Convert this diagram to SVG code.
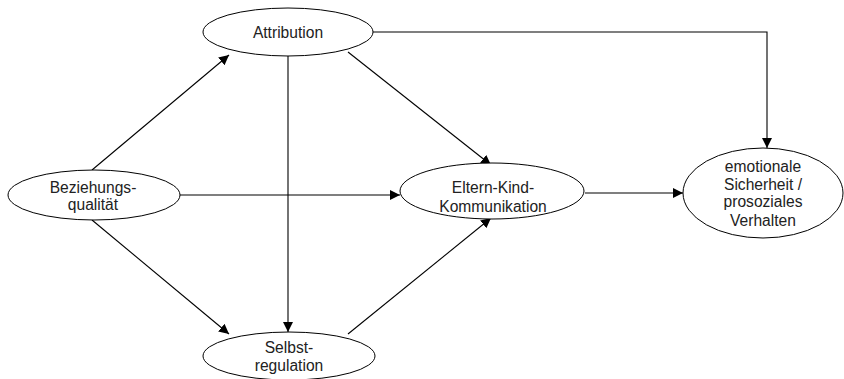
<svg xmlns="http://www.w3.org/2000/svg" width="844" height="379" viewBox="0 0 844 379">
<style>
.n{fill:#fff;stroke:#000;stroke-width:1}
.t{font-family:"Liberation Sans",Arial,sans-serif;font-size:15.6px;fill:#222;text-anchor:middle}
.c{fill:none;stroke:#000;stroke-width:1.1}
</style>
<defs>
<marker id="a" viewBox="0 0 10 10" refX="10" refY="5" markerWidth="10" markerHeight="10" markerUnits="userSpaceOnUse" orient="auto">
<path d="M0,0 L10,5 L0,10 z" fill="#000"/>
</marker>
</defs>
<g id="connectors">
<line class="c" x1="92" y1="170" x2="229" y2="55" marker-end="url(#a)"/>
<polyline class="c" points="373,32 767,32 767,148" marker-end="url(#a)"/>
<line class="c" x1="288" y1="56" x2="288" y2="332" marker-end="url(#a)"/>
<line class="c" x1="348" y1="52" x2="491" y2="165" marker-end="url(#a)"/>
<line class="c" x1="180" y1="195" x2="400" y2="195" marker-end="url(#a)"/>
<line class="c" x1="92" y1="220" x2="229" y2="334" marker-end="url(#a)"/>
<line class="c" x1="348" y1="334" x2="491" y2="218" marker-end="url(#a)"/>
<line class="c" x1="585" y1="193" x2="683" y2="193" marker-end="url(#a)"/>
</g>
<g id="attribution">
<ellipse class="n" cx="288" cy="32" rx="85" ry="24"/>
<text class="t" x="288" y="38">Attribution</text>
</g>
<g id="beziehungsqualitaet">
<ellipse class="n" cx="94" cy="195" rx="86" ry="25"/>
<text class="t" x="93" y="193">Beziehungs-</text>
<text class="t" x="93" y="210">qualität</text>
</g>
<g id="eltern-kind">
<ellipse class="n" cx="492" cy="191" rx="92" ry="28"/>
<text class="t" x="493" y="193">Eltern-Kind-</text>
<text class="t" x="493" y="212">Kommunikation</text>
</g>
<g id="emotionale">
<ellipse class="n" cx="763" cy="193" rx="80" ry="45"/>
<text class="t" x="763" y="172">emotionale</text>
<text class="t" x="763" y="190">Sicherheit /</text>
<text class="t" x="763" y="207">prosoziales</text>
<text class="t" x="763" y="226">Verhalten</text>
</g>
<g id="selbstregulation">
<ellipse class="n" cx="289" cy="356" rx="86" ry="24"/>
<text class="t" x="289" y="353">Selbst-</text>
<text class="t" x="289" y="371">regulation</text>
</g>
</svg>
